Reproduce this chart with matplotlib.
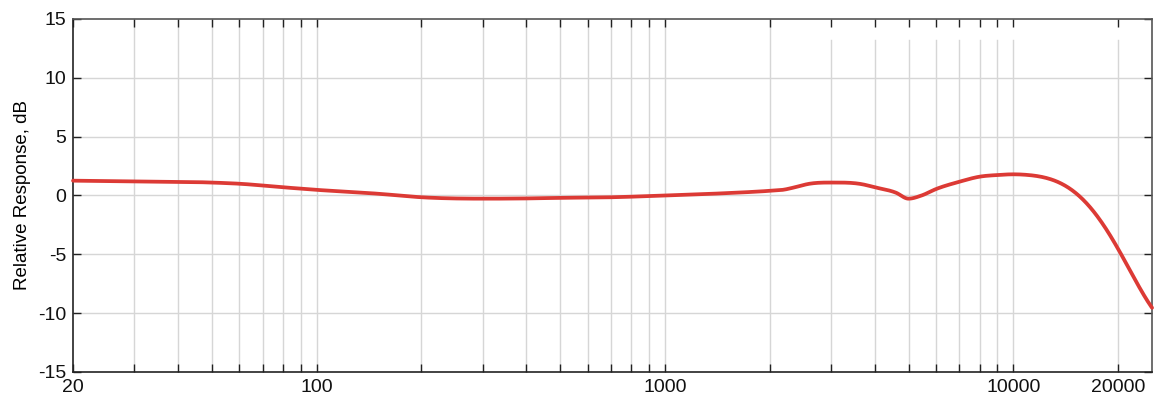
import numpy as np
import matplotlib
matplotlib.use("Agg")
import matplotlib.pyplot as plt
from matplotlib.ticker import FixedLocator, FixedFormatter

plt.rcParams['axes.unicode_minus'] = False
plt.rcParams['font.family'] = ['Liberation Sans', 'DejaVu Sans']

# Data
freq_hz = [20, 30, 50, 60, 80, 100, 150, 200, 300, 400, 500, 700, 1000, 1500,
           2000, 2200, 2330, 2600, 3000, 3690, 4000, 4600, 5000, 5450, 6000,
           7000, 8000, 9000, 10000, 11000, 12000, 13000, 14000, 15000, 16000,
           16970, 18130, 19370, 20240, 21630, 23110, 25000]
response_db = [1.26, 1.2, 1.1, 1.0, 0.7, 0.48, 0.15, -0.15, -0.27, -0.25, -0.2,
               -0.15, 0.0, 0.2, 0.4, 0.5, 0.66, 1.0, 1.1, 0.95, 0.7, 0.24,
               -0.27, 0.0, 0.55, 1.17, 1.6, 1.74, 1.8, 1.75, 1.6, 1.3, 0.85,
               0.3, -0.45, -1.37, -2.5, -3.85, -4.85, -6.4, -7.9, -9.55]

x_ticks = [20, 100, 1000, 10000, 20000]
x_ticklabels = ["20", "100", "1000", "10000", "20000"]
y_ticks = [-15, -10, -5, 0, 5, 10, 15]

full_grid = [30, 40, 50, 60, 70, 80, 90, 100, 200, 300, 400, 500, 600, 700,
             800, 900, 1000, 2000]
short_grid = [3000, 4000, 5000, 6000, 7000, 8000, 9000, 10000, 20000]

fig = plt.figure(figsize=(11.74, 4.12), dpi=100)
ax = fig.add_axes([0.0622, 0.0971, 0.9191, 0.8568])
ax.set_xscale('log')
ax.set_xlim(20, 25000)
ax.set_ylim(-15, 15)

gc = '#d6d6d6'
for y in [-10, -5, 0, 5, 10]:
    ax.axhline(y, color=gc, lw=1.0, zorder=0)
for x in full_grid:
    ax.axvline(x, color=gc, lw=1.0, zorder=0)
for x in short_grid:
    ax.axvline(x, ymin=0, ymax=(13.2 + 15) / 30, color=gc, lw=1.0, zorder=0)


def hermite(x, y, xn):
    """C1 cubic Hermite with averaged slopes; zero slope at local extrema."""
    x = np.asarray(x, float); y = np.asarray(y, float)
    h = np.diff(x); d = np.diff(y) / h
    m = np.zeros_like(y)
    for k in range(1, len(y) - 1):
        if d[k - 1] * d[k] <= 0:
            m[k] = 0.0
        else:
            m[k] = (h[k] * d[k - 1] + h[k - 1] * d[k]) / (h[k] + h[k - 1])
    m[0] = d[0]; m[-1] = d[-1]
    idx = np.clip(np.searchsorted(x, xn) - 1, 0, len(x) - 2)
    t = (xn - x[idx]) / h[idx]
    h00 = 2 * t**3 - 3 * t**2 + 1; h10 = t**3 - 2 * t**2 + t
    h01 = -2 * t**3 + 3 * t**2; h11 = t**3 - t**2
    return (h00 * y[idx] + h10 * h[idx] * m[idx] + h01 * y[idx + 1]
            + h11 * h[idx] * m[idx + 1])


def smoothing_poly(x, y, xn, deg=5):
    c = np.polyfit(x, y, deg)
    return np.polyval(c, xn)


lf = np.log10(freq_hz)
fine = np.linspace(lf[0], lf[-1], 1500)
yf = hermite(lf, response_db, fine)

# smoother roll-off above 10 kHz (least-squares poly through read points)
k0 = freq_hz.index(10000)
tail = fine >= lf[k0]
yp = smoothing_poly(lf[k0:], np.asarray(response_db[k0:]), fine[tail])
# blend so the join at 10 kHz is seamless
w = np.clip((fine[tail] - lf[k0]) / 0.04, 0, 1)
yf[tail] = (1 - w) * yf[tail] + w * yp

ax.plot(10**fine, yf, color='#dc3a35', lw=2.7, solid_capstyle='round',
        zorder=3, clip_on=False)

ax.xaxis.set_major_locator(FixedLocator(x_ticks))
ax.xaxis.set_major_formatter(FixedFormatter(x_ticklabels))
ax.xaxis.set_minor_locator(FixedLocator(full_grid + short_grid))
ax.xaxis.set_minor_formatter(plt.NullFormatter())
ax.set_yticks(y_ticks)
ax.set_yticklabels([str(v) for v in y_ticks])

ax.tick_params(axis='both', which='both', direction='in', length=6, width=1,
               labelsize=14, color='#222222', labelcolor='#111111')
ax.tick_params(axis='x', which='both', top=True, pad=5)
ax.tick_params(axis='y', which='both', right=True, pad=5)

for s in ['left', 'bottom']:
    ax.spines[s].set_color('#222222')
    ax.spines[s].set_linewidth(1.2)
for s in ['top', 'right']:
    ax.spines[s].set_color('#555555')
    ax.spines[s].set_linewidth(1.2)

ax.set_ylabel('Relative Response, dB', fontsize=13.5, labelpad=5)

fig.savefig('out.png', dpi=100)
